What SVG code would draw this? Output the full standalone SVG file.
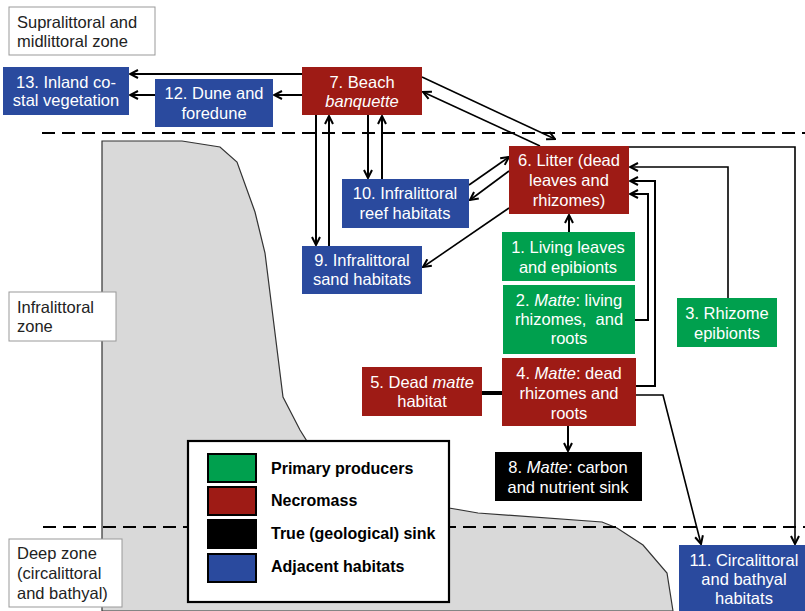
<svg xmlns="http://www.w3.org/2000/svg" width="805" height="611" viewBox="0 0 805 611">
<style>
.t{font-family:"Liberation Sans",Arial,sans-serif;font-size:16.5px;fill:#fff;text-anchor:middle}
.z{font-family:"Liberation Sans",Arial,sans-serif;font-size:16.5px;fill:#222}
.lg{font-family:"Liberation Sans",Arial,sans-serif;font-size:16px;font-weight:bold;fill:#000}
.b{fill:#2a4a9e}
.r{fill:#9e1b15}
.g{fill:#00a04e}
.k{fill:#000}
.zb{fill:#fff;stroke:#999;stroke-width:1}
.c{fill:none;stroke:#000;stroke-width:2}
.c1{fill:none;stroke:#000;stroke-width:1.6}
.dash{fill:none;stroke:#000;stroke-width:2;stroke-dasharray:13 7}
</style>
<defs>
<marker id="a" viewBox="0 0 10 10" refX="9" refY="5" markerWidth="10" markerHeight="10" markerUnits="userSpaceOnUse" orient="auto">
<path d="M1,1 L9,5 L1,9" fill="none" stroke="#000" stroke-width="2"/>
</marker>
</defs>
<rect width="805" height="611" fill="#fff"/>
<!-- seabed shape -->
<path d="M102,611 L102,141 L182,141 L220,147 L237,162 L255,212 L265,253 L283,397 L300,430 L310,446 L440,506 L449,508 L478,513 L602,522 L617,528 L643,545 L667,573 L673,611 Z" fill="#d9d9d9" stroke="#333" stroke-width="1.2"/>
<!-- zone lines -->
<line class="dash" x1="42" y1="133" x2="805" y2="133"/>
<line class="dash" x1="43" y1="527" x2="805" y2="527"/>
<!-- zone labels -->
<g id="zone-supra"><rect class="zb" x="9" y="7" width="146" height="48"/><text class="z" x="17" y="28">Supralittoral and</text><text class="z" x="17" y="47">midlittoral zone</text></g>
<g id="zone-infra"><rect class="zb" x="9" y="292" width="107" height="49"/><text class="z" x="17" y="313">Infralittoral</text><text class="z" x="17" y="332">zone</text></g>
<g id="zone-deep"><rect class="zb" x="9" y="539" width="113" height="68"/><text class="z" x="17" y="559">Deep zone</text><text class="z" x="17" y="579">(circalittoral</text><text class="z" x="17" y="599">and bathyal)</text></g>
<!-- connectors -->
<g id="connectors">
<line class="c" x1="302" y1="74" x2="130" y2="74" marker-end="url(#a)"/>
<line class="c" x1="302" y1="95" x2="274" y2="95" marker-end="url(#a)"/>
<line class="c" x1="155" y1="95" x2="130" y2="95" marker-end="url(#a)"/>
<line class="c1" x1="422" y1="77" x2="555" y2="139" marker-end="url(#a)"/>
<line class="c1" x1="540" y1="146" x2="423" y2="92" marker-end="url(#a)"/>
<line class="c" x1="316" y1="115" x2="316" y2="245" marker-end="url(#a)"/>
<line class="c" x1="329" y1="246" x2="329" y2="116" marker-end="url(#a)"/>
<line class="c" x1="368" y1="115" x2="368" y2="178" marker-end="url(#a)"/>
<line class="c" x1="382" y1="179" x2="382" y2="116" marker-end="url(#a)"/>
<line class="c1" x1="469" y1="185" x2="509" y2="157" marker-end="url(#a)"/>
<line class="c1" x1="509" y1="171" x2="470" y2="200" marker-end="url(#a)"/>
<line class="c1" x1="509" y1="208" x2="423" y2="267" marker-end="url(#a)"/>
<line class="c" x1="569" y1="232" x2="569" y2="215" marker-end="url(#a)"/>
<polyline class="c" points="628,320 648,320 648,194 630,194" marker-end="url(#a)"/>
<polyline class="c" points="630,386 655,386 655,181 630,181" marker-end="url(#a)"/>
<polyline class="c1" points="728,298 728,167 630,167" marker-end="url(#a)"/>
<polyline class="c1" points="629,147 795,147 795,544" marker-end="url(#a)"/>
<polyline class="c1" points="635,395 663,395 701,544" marker-end="url(#a)"/>
<line class="c" x1="568" y1="426" x2="568" y2="451" marker-end="url(#a)"/>
<line stroke="#000" stroke-width="4" x1="482" y1="393" x2="502" y2="393"/>
</g>
<!-- nodes -->
<g id="n13"><rect class="b" x="3" y="67" width="126" height="48"/><text class="t" x="66" y="88">13. Inland co-</text><text class="t" x="66" y="106">stal vegetation</text></g>
<g id="n12"><rect class="b" x="155" y="79" width="118" height="48"/><text class="t" x="214" y="99">12. Dune and</text><text class="t" x="214" y="119">foredune</text></g>
<g id="n7"><rect class="r" x="302" y="67" width="120" height="48"/><text class="t" x="362" y="88">7. Beach</text><text class="t" x="362" y="107" font-style="italic">banquette</text></g>
<g id="n6"><rect class="r" x="509" y="146" width="120" height="68"/><text class="t" x="569" y="166">6. Litter (dead</text><text class="t" x="569" y="186">leaves and</text><text class="t" x="569" y="206">rhizomes)</text></g>
<g id="n10"><rect class="b" x="342" y="179" width="127" height="49"/><text class="t" x="405" y="199">10. Infralittoral</text><text class="t" x="405" y="219">reef habitats</text></g>
<g id="n9"><rect class="b" x="302" y="246" width="120" height="48"/><text class="t" x="362" y="266">9. Infralittoral</text><text class="t" x="362" y="285">sand habitats</text></g>
<g id="n1"><rect class="g" x="502" y="232" width="133" height="49"/><text class="t" x="568" y="253">1. Living leaves</text><text class="t" x="568" y="273">and epibionts</text></g>
<g id="n2"><rect class="g" x="503" y="285" width="132" height="69"/><text class="t" x="569" y="306">2. <tspan font-style="italic">Matte</tspan>: living</text><text class="t" x="569" y="325" xml:space="preserve">rhizomes,  and</text><text class="t" x="569" y="344">roots</text></g>
<g id="n3"><rect class="g" x="677" y="298" width="100" height="49"/><text class="t" x="727" y="319">3. Rhizome</text><text class="t" x="727" y="339">epibionts</text></g>
<g id="n4"><rect class="r" x="502" y="358" width="134" height="68"/><text class="t" x="569" y="379">4. <tspan font-style="italic">Matte</tspan>: dead</text><text class="t" x="569" y="399">rhizomes and</text><text class="t" x="569" y="419">roots</text></g>
<g id="n5"><rect class="r" x="362" y="367" width="120" height="49"/><text class="t" x="422" y="388">5. Dead <tspan font-style="italic">matte</tspan></text><text class="t" x="422" y="407">habitat</text></g>
<g id="n8"><rect class="k" x="495" y="452" width="147" height="49"/><text class="t" x="568" y="473">8. <tspan font-style="italic">Matte</tspan>: carbon</text><text class="t" x="568" y="493">and nutrient sink</text></g>
<g id="n11"><rect class="b" x="679" y="545" width="126" height="66"/><text class="t" x="744" y="566">11. Circalittoral</text><text class="t" x="744" y="585">and bathyal</text><text class="t" x="744" y="604">habitats</text></g>
<!-- legend -->
<g id="legend">
<rect x="188" y="441" width="261" height="161" fill="#fff" stroke="#000" stroke-width="2.2"/>
<rect x="208" y="454" width="48" height="28" fill="#00a04e" stroke="#000" stroke-width="2"/>
<rect x="208" y="487" width="48" height="28" fill="#9e1b15" stroke="#000" stroke-width="2"/>
<rect x="208" y="520" width="48" height="28" fill="#000" stroke="#000" stroke-width="2"/>
<rect x="208" y="554" width="48" height="28" fill="#2a4a9e" stroke="#000" stroke-width="2"/>
<text class="lg" x="271" y="474">Primary producers</text>
<text class="lg" x="271" y="506">Necromass</text>
<text class="lg" x="271" y="539">True (geological) sink</text>
<text class="lg" x="271" y="572">Adjacent habitats</text>
</g>
</svg>
